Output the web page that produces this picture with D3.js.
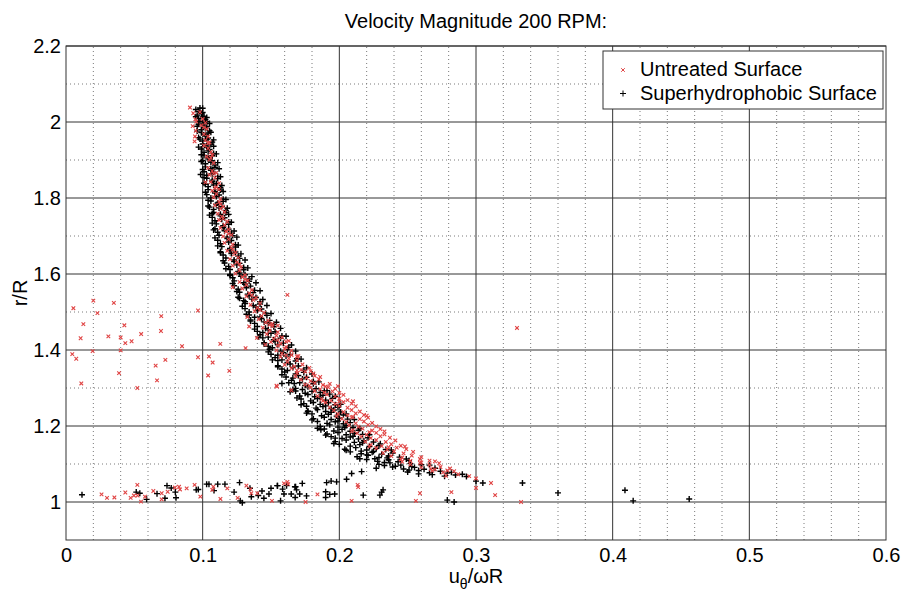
<!DOCTYPE html>
<html>
<head>
<meta charset="utf-8">
<script src="https://d3js.org/d3.v7.min.js"></script>
<style>
    body { margin: 0; background: #fff; }
    text { font-family: "Liberation Sans", Arial, sans-serif; fill: #000; }
</style>
</head>
<body>
<svg id="chart" width="904" height="595"></svg>
<script>

// chart text
var chartTitle = "Velocity Magnitude 200 RPM:";
var seriesNames = ["Untreated Surface", "Superhydrophobic Surface"];
var xTicks = [0, 0.1, 0.2, 0.3, 0.4, 0.5, 0.6];
var yTicks = [1, 1.2, 1.4, 1.6, 1.8, 2, 2.2];
var xMinorTicks = [0.02, 0.04, 0.06, 0.08, 0.12, 0.14, 0.16, 0.18, 0.22, 0.24, 0.26, 0.28,
    0.32, 0.34, 0.36, 0.38, 0.42, 0.44, 0.46, 0.48, 0.52, 0.54, 0.56, 0.58];
var yMinorTicks = [1.1, 1.3, 1.5, 1.7, 1.9, 2.1];

// superhydrophobic surface (black +), main band [u/wR, r/R]
var superBand = [
    [0.098,2.037],[0.097,2.028],[0.100,2.025],[0.096,2.018],[0.099,2.022],[0.101,2.015],
    [0.097,2.009],[0.100,2.013],[0.102,2.006],[0.098,2.002],[0.101,1.997],[0.103,2.001],
    [0.096,1.989],[0.100,1.993],[0.103,1.988],[0.099,1.980],[0.102,1.984],[0.105,1.977],
    [0.099,1.972],[0.102,1.967],[0.104,1.971],[0.097,1.959],[0.102,1.963],[0.104,1.958],
    [0.100,1.950],[0.103,1.954],[0.107,1.947],[0.100,1.942],[0.103,1.937],[0.106,1.941],
    [0.099,1.929],[0.103,1.933],[0.105,1.928],[0.101,1.920],[0.104,1.924],[0.108,1.917],
    [0.101,1.912],[0.104,1.907],[0.107,1.911],[0.100,1.899],[0.104,1.903],[0.107,1.898],
    [0.102,1.890],[0.106,1.894],[0.109,1.887],[0.102,1.882],[0.106,1.877],[0.109,1.881],
    [0.101,1.869],[0.106,1.873],[0.108,1.868],[0.103,1.860],[0.107,1.864],[0.111,1.857],
    [0.103,1.852],[0.107,1.847],[0.111,1.851],[0.101,1.839],[0.107,1.843],[0.110,1.838],
    [0.104,1.830],[0.108,1.834],[0.113,1.827],[0.104,1.822],[0.109,1.817],[0.113,1.821],
    [0.103,1.809],[0.109,1.813],[0.112,1.808],[0.106,1.800],[0.110,1.804],[0.115,1.797],
    [0.106,1.792],[0.111,1.787],[0.115,1.791],[0.104,1.779],[0.110,1.783],[0.114,1.778],
    [0.108,1.770],[0.112,1.774],[0.117,1.767],[0.108,1.762],[0.113,1.757],[0.117,1.761],
    [0.107,1.749],[0.113,1.753],[0.116,1.748],[0.109,1.740],[0.114,1.744],[0.119,1.737],
    [0.110,1.732],[0.115,1.727],[0.119,1.731],[0.109,1.719],[0.115,1.723],[0.119,1.718],
    [0.111,1.710],[0.116,1.714],[0.121,1.707],[0.112,1.702],[0.118,1.697],[0.122,1.701],
    [0.111,1.689],[0.118,1.693],[0.121,1.688],[0.113,1.680],[0.119,1.684],[0.124,1.677],
    [0.114,1.672],[0.120,1.667],[0.124,1.671],[0.113,1.659],[0.120,1.663],[0.124,1.658],
    [0.115,1.650],[0.121,1.654],[0.126,1.647],[0.117,1.642],[0.123,1.637],[0.127,1.641],
    [0.116,1.629],[0.123,1.633],[0.127,1.628],[0.119,1.620],[0.125,1.624],[0.130,1.617],
    [0.120,1.612],[0.126,1.607],[0.130,1.611],[0.120,1.599],[0.127,1.603],[0.131,1.598],
    [0.122,1.590],[0.128,1.594],[0.134,1.587],[0.123,1.582],[0.130,1.577],[0.134,1.581],
    [0.123,1.569],[0.131,1.573],[0.135,1.568],[0.126,1.560],[0.132,1.564],[0.138,1.557],
    [0.127,1.552],[0.133,1.547],[0.137,1.551],[0.126,1.539],[0.134,1.543],[0.139,1.538],
    [0.130,1.530],[0.136,1.534],[0.142,1.527],[0.131,1.522],[0.137,1.517],[0.142,1.521],
    [0.131,1.509],[0.139,1.513],[0.143,1.508],[0.134,1.500],[0.140,1.504],[0.146,1.497],
    [0.134,1.492],[0.142,1.487],[0.147,1.491],[0.138,1.486],[0.135,1.479],[0.143,1.483],
    [0.149,1.478],[0.138,1.470],[0.145,1.474],[0.152,1.467],[0.148,1.471],[0.140,1.462],
    [0.146,1.457],[0.152,1.461],[0.140,1.449],[0.148,1.453],[0.153,1.448],[0.144,1.446],
    [0.142,1.440],[0.150,1.444],[0.158,1.437],[0.144,1.432],[0.152,1.427],[0.157,1.431],
    [0.148,1.434],[0.145,1.419],[0.153,1.423],[0.159,1.418],[0.148,1.410],[0.155,1.414],
    [0.163,1.407],[0.151,1.406],[0.149,1.402],[0.157,1.397],[0.162,1.401],[0.150,1.389],
    [0.159,1.393],[0.164,1.388],[0.155,1.386],[0.153,1.380],[0.161,1.384],[0.169,1.377],
    [0.155,1.372],[0.162,1.367],[0.168,1.371],[0.158,1.374],[0.155,1.359],[0.164,1.363],
    [0.170,1.358],[0.158,1.350],[0.166,1.354],[0.174,1.347],[0.162,1.346],[0.160,1.342],
    [0.168,1.337],[0.174,1.341],[0.161,1.329],[0.170,1.333],[0.176,1.328],[0.166,1.326],
    [0.165,1.320],[0.173,1.324],[0.181,1.317],[0.167,1.312],[0.175,1.307],[0.181,1.311],
    [0.171,1.314],[0.168,1.299],[0.177,1.303],[0.183,1.298],[0.173,1.296],
    [0.168,1.292],[0.175,1.286],[0.180,1.291],[0.186,1.288],[0.191,1.293],
    [0.171,1.279],[0.177,1.283],[0.182,1.277],[0.188,1.281],[0.193,1.284],
    [0.172,1.271],[0.179,1.266],[0.184,1.272],[0.190,1.268],[0.195,1.273],
    [0.174,1.259],[0.181,1.262],[0.186,1.257],[0.192,1.261],[0.197,1.256],
    [0.176,1.252],[0.183,1.247],[0.188,1.251],[0.194,1.246],[0.199,1.249],
    [0.177,1.239],[0.184,1.243],[0.190,1.238],[0.196,1.242],[0.201,1.237],
    [0.180,1.232],[0.187,1.227],[0.192,1.231],[0.198,1.226],[0.203,1.229],
    [0.181,1.219],[0.189,1.223],[0.194,1.217],[0.200,1.221],[0.206,1.218],
    [0.184,1.212],[0.191,1.207],[0.197,1.211],[0.203,1.206],[0.208,1.209],
    [0.186,1.199],[0.193,1.203],[0.199,1.197],[0.205,1.201],[0.210,1.196],
    [0.189,1.192],[0.196,1.187],[0.202,1.191],[0.208,1.186],[0.214,1.189],
    [0.191,1.179],[0.199,1.183],[0.205,1.177],[0.211,1.181],[0.217,1.178],
    [0.194,1.172],[0.202,1.167],[0.208,1.171],[0.214,1.166],[0.221,1.169],
    [0.197,1.159],[0.205,1.163],[0.211,1.157],[0.218,1.161],[0.225,1.158],
    [0.200,1.152],[0.208,1.147],[0.215,1.151],[0.222,1.146],[0.229,1.149],
    [0.204,1.139],[0.212,1.143],[0.220,1.137],[0.227,1.141],[0.234,1.138],[0.216,1.134],
    [0.208,1.132],[0.216,1.127],[0.224,1.131],[0.231,1.126],[0.239,1.129],[0.220,1.124],
    [0.213,1.119],[0.221,1.123],[0.229,1.117],[0.236,1.121],[0.244,1.118],[0.226,1.114],
    [0.220,1.112],[0.228,1.107],[0.236,1.111],[0.243,1.106],[0.251,1.109],[0.233,1.104],
    [0.229,1.099],[0.237,1.103],[0.245,1.097],[0.252,1.101],[0.260,1.098],[0.241,1.094],
    [0.239,1.092],[0.247,1.087],[0.255,1.091],[0.262,1.086],[0.270,1.089],[0.251,1.084],
    [0.250,1.079],[0.258,1.083],[0.266,1.077],[0.274,1.081],[0.282,1.078],
    [0.268,1.072],[0.277,1.068],[0.285,1.071],[0.293,1.067],
    // band edges, between the rows above
    [0.095,2.033],[0.100,2.036],[0.095,2.014],[0.103,2.012],[0.097,1.994],[0.105,1.996],
    [0.096,1.976],[0.106,1.973],[0.098,1.955],[0.108,1.953],[0.097,1.934],[0.108,1.936],
    [0.099,1.914],[0.110,1.916],[0.099,1.896],[0.111,1.893],[0.100,1.875],[0.112,1.877],
    [0.101,1.854],[0.113,1.856],[0.102,1.836],[0.114,1.833],[0.102,1.815],[0.115,1.817],
    [0.104,1.794],[0.117,1.796],[0.105,1.776],[0.118,1.773],[0.105,1.755],[0.119,1.757],
    [0.107,1.734],[0.121,1.736],[0.108,1.716],[0.123,1.713],[0.109,1.695],[0.125,1.697],
    [0.111,1.674],[0.126,1.676],[0.113,1.656],[0.128,1.653],[0.115,1.635],[0.131,1.637],
    [0.117,1.614],[0.133,1.616],[0.120,1.596],[0.136,1.593],[0.122,1.575],[0.139,1.577],
    [0.125,1.554],[0.142,1.556],[0.127,1.536],[0.144,1.533],[0.129,1.515],[0.147,1.517],
    [0.132,1.494],[0.150,1.496],[0.135,1.476],[0.154,1.473],[0.138,1.455],[0.157,1.457],
    [0.141,1.434],[0.161,1.436],[0.145,1.416],[0.165,1.413],[0.148,1.395],[0.168,1.397],
    [0.151,1.374],[0.172,1.376],[0.155,1.356],[0.176,1.353],[0.158,1.335],[0.180,1.337],
    [0.163,1.314],[0.185,1.316],[0.166,1.296],[0.189,1.293],
    [0.169,1.274],[0.186,1.276],[0.197,1.278],[0.172,1.256],[0.190,1.253],[0.201,1.257],
    [0.176,1.234],[0.194,1.236],[0.205,1.232],[0.180,1.216],[0.199,1.213],[0.211,1.217],
    [0.184,1.194],[0.204,1.196],[0.215,1.193],[0.190,1.176],[0.210,1.173],[0.222,1.177],
    [0.196,1.154],[0.217,1.156],[0.230,1.153],[0.205,1.136],[0.225,1.133],[0.238,1.137],
    [0.215,1.114],[0.235,1.116],[0.249,1.113],[0.233,1.096],[0.253,1.093],[0.266,1.097],
    [0.258,1.074],[0.279,1.076],[0.290,1.073]
];

// superhydrophobic surface, points near the wall and stray points
var superScatter = [
    [0.0117,1.019],[0.0514,1.026],[0.054,1.023],[0.059,1.007],[0.0666,1.022],[0.0739,1.043],
    [0.0724,1.010],[0.077,1.037],[0.080,1.026],[0.0805,1.011],[0.0953,1.032],[0.0968,1.033],
    [0.1029,1.047],[0.1046,1.047],[0.111,1.047],[0.1083,1.030],[0.1163,1.047],[0.123,1.026],
    [0.127,1.051],[0.1275,1.003],[0.129,0.998],[0.1356,1.014],[0.1407,1.017],[0.1434,1.029],
    [0.1448,1.010],[0.1485,1.021],[0.1548,1.043],[0.157,1.003],[0.1585,1.034],[0.1595,1.021],
    [0.1614,1.043],[0.1648,1.021],[0.1677,1.012],[0.1675,1.040],[0.1687,1.032],[0.171,1.021],
    [0.1729,1.049],[0.176,1.016],[0.190,1.027],[0.193,1.020],[0.1966,1.021],[0.190,1.012],
    [0.1907,1.051],[0.1346,1.036],[0.150,1.036],[0.1546,1.043],[0.168,1.040],[0.194,1.055],
    [0.198,1.053],[0.2053,1.060],[0.2297,1.018],[0.2175,1.018],[0.232,1.032],[0.231,1.026],
    [0.279,1.005],[0.284,1.000],[0.300,1.055],[0.305,1.050],[0.334,1.050],[0.360,1.024],
    [0.409,1.031],[0.415,1.003],[0.456,1.008],
    [0.209,1.075],[0.2163,1.080],[0.227,1.089],[0.158,1.312],[0.164,1.290],[0.177,1.238],
    [0.1865,1.190],[0.197,1.168],[0.0985,1.862],[0.107,1.759],[0.131,1.527]
];

// untreated surface (red x), main band
var untreatedBand = [
    [0.100,2.008],[0.102,1.998],[0.099,1.991],[0.103,1.982],[0.101,1.968],[0.104,1.962],
    [0.102,1.952],[0.105,1.946],[0.101,1.938],[0.104,1.931],[0.106,1.921],[0.103,1.909],
    [0.107,1.913],[0.105,1.901],[0.108,1.892],[0.104,1.879],[0.107,1.871],[0.110,1.866],
    [0.105,1.861],[0.109,1.853],[0.106,1.842],[0.112,1.839],[0.110,1.829],[0.107,1.819],
    [0.112,1.823],[0.110,1.811],[0.108,1.802],[0.113,1.798],[0.112,1.789],[0.109,1.781],
    [0.115,1.777],[0.113,1.772],[0.111,1.759],[0.116,1.763],[0.114,1.751],[0.112,1.742],
    [0.118,1.738],[0.116,1.729],[0.113,1.721],[0.119,1.717],[0.117,1.712],[0.115,1.699],
    [0.121,1.703],[0.119,1.691],[0.116,1.682],[0.122,1.678],[0.121,1.669],[0.118,1.661],
    [0.124,1.657],[0.123,1.652],[0.120,1.639],[0.126,1.643],[0.125,1.631],[0.122,1.622],
    [0.128,1.618],[0.127,1.609],[0.124,1.601],[0.131,1.597],[0.129,1.592],[0.127,1.579],
    [0.133,1.583],[0.132,1.571],[0.129,1.562],[0.136,1.558],[0.134,1.549],[0.132,1.541],
    [0.139,1.537],[0.137,1.532],[0.135,1.519],[0.142,1.523],[0.140,1.511],[0.138,1.502],
    [0.145,1.498],[0.143,1.489],[0.141,1.481],[0.148,1.477],[0.146,1.472],[0.151,1.469],
    [0.144,1.459],[0.151,1.463],[0.149,1.451],[0.155,1.447],[0.147,1.442],[0.154,1.438],
    [0.152,1.429],[0.158,1.433],[0.150,1.421],[0.157,1.417],[0.161,1.422],[0.155,1.412],
    [0.161,1.408],[0.154,1.399],[0.160,1.403],[0.165,1.398],[0.158,1.391],[0.165,1.387],
    [0.157,1.382],[0.163,1.378],[0.169,1.383],[0.162,1.369],[0.169,1.373],[0.160,1.361],
    [0.167,1.357],[0.173,1.362],[0.165,1.352],[0.172,1.348],[0.178,1.353],[0.169,1.339],
    [0.175,1.343],[0.181,1.338],[0.168,1.331],[0.176,1.327],[0.182,1.332],[0.186,1.329],
    [0.172,1.322],[0.179,1.318],[0.185,1.323],[0.175,1.309],[0.182,1.313],[0.188,1.308],
    [0.193,1.311],[0.179,1.301],[0.186,1.297],[0.192,1.302],[0.197,1.298],
    [0.182,1.292],[0.189,1.288],[0.195,1.291],[0.200,1.287],[0.184,1.279],[0.191,1.283],
    [0.197,1.278],[0.203,1.282],[0.187,1.271],[0.194,1.267],[0.200,1.272],[0.206,1.268],
    [0.190,1.262],[0.197,1.258],[0.203,1.263],[0.209,1.259],[0.193,1.249],[0.200,1.253],
    [0.206,1.248],[0.212,1.252],[0.196,1.241],[0.203,1.237],[0.209,1.242],[0.215,1.238],
    [0.199,1.232],[0.206,1.228],[0.212,1.233],[0.218,1.229],[0.202,1.219],[0.209,1.223],
    [0.215,1.218],[0.221,1.222],[0.205,1.211],[0.212,1.207],[0.218,1.212],[0.224,1.208],
    [0.207,1.202],[0.214,1.198],[0.221,1.203],[0.227,1.199],[0.210,1.189],[0.217,1.193],
    [0.224,1.188],[0.230,1.192],[0.213,1.181],[0.220,1.177],[0.227,1.182],[0.233,1.178],
    [0.216,1.172],[0.223,1.168],[0.230,1.173],[0.237,1.169],[0.219,1.159],[0.227,1.163],
    [0.234,1.158],[0.241,1.162],[0.223,1.151],[0.231,1.147],[0.238,1.152],[0.245,1.148],
    [0.227,1.142],[0.235,1.138],[0.242,1.143],[0.249,1.139],[0.232,1.129],[0.240,1.133],
    [0.247,1.128],[0.254,1.132],[0.238,1.121],[0.246,1.117],[0.253,1.122],[0.260,1.118],
    [0.245,1.112],[0.252,1.108],[0.259,1.113],[0.266,1.109],[0.252,1.099],[0.259,1.103],
    [0.266,1.098],[0.273,1.102],[0.260,1.091],[0.267,1.087],[0.274,1.092],[0.281,1.088],
    [0.268,1.082],[0.276,1.078],[0.284,1.081],[0.278,1.069],[0.287,1.073],[0.295,1.068],
    [0.300,1.062],
    [0.098,2.026],[0.101,1.986],[0.104,1.944],[0.106,1.906],[0.108,1.864],[0.109,1.826],
    [0.113,1.784],[0.115,1.746],[0.119,1.706],[0.122,1.664],[0.127,1.626],[0.131,1.586],
    [0.136,1.544],[0.142,1.506],[0.149,1.466],[0.155,1.464],[0.155,1.426],[0.163,1.424],
    [0.161,1.386],[0.170,1.384],[0.169,1.346],[0.179,1.344],[0.178,1.306],[0.190,1.304],
    [0.199,1.305],[0.188,1.266],[0.200,1.264],[0.210,1.265],[0.198,1.226],[0.210,1.224],
    [0.220,1.227],[0.209,1.186],[0.222,1.184],[0.233,1.186],[0.222,1.146],[0.236,1.144],
    [0.248,1.146],[0.246,1.106],[0.260,1.104],[0.270,1.107],[0.270,1.086],[0.279,1.083]
];

// untreated surface, points near the wall and stray points
var untreatedScatter = [
    [0.026,1.020],[0.030,1.011],[0.0354,1.012],[0.0434,1.025],[0.0522,1.045],[0.0473,1.011],
    [0.0497,1.017],[0.0524,1.017],[0.0549,1.001],[0.0578,1.014],[0.0639,1.029],[0.070,1.023],
    [0.070,1.007],[0.0744,1.027],[0.0797,1.038],[0.0827,1.040],[0.0834,1.033],[0.0883,1.036],
    [0.0941,1.045],[0.0983,1.014],[0.1078,1.040],[0.113,1.008],[0.118,1.036],[0.1256,1.011],
    [0.132,1.043],[0.135,1.034],[0.1356,1.023],[0.140,1.023],[0.1507,1.003],[0.1595,1.049],
    [0.1626,1.047],[0.1753,1.000],[0.184,1.020],[0.209,1.003],[0.2134,1.045],[0.107,1.032],
    [0.162,1.053],[0.2138,1.039],[0.256,1.003],[0.259,1.023],[0.282,1.026],[0.300,1.037],
    [0.311,1.050],[0.314,1.018],[0.333,1.000],
    [0.0054,1.510],[0.020,1.530],[0.035,1.524],[0.023,1.497],[0.0127,1.468],[0.0107,1.431],
    [0.0427,1.465],[0.031,1.436],[0.040,1.433],[0.0434,1.418],[0.048,1.423],[0.055,1.442],
    [0.0697,1.489],[0.0695,1.450],[0.0966,1.504],[0.0849,1.410],[0.0195,1.397],[0.040,1.399],
    [0.0046,1.389],[0.0075,1.377],[0.0112,1.312],[0.0388,1.339],[0.0522,1.300],[0.0656,1.359],
    [0.0727,1.374],[0.0666,1.320],[0.0966,1.381],[0.1046,1.383],[0.1073,1.367],[0.104,1.333],
    [0.1195,1.345],[0.1129,1.416],[0.1314,1.405],[0.122,1.565],[0.1327,1.487],[0.134,1.462],
    [0.1397,1.432],[0.1458,1.414],[0.1544,1.304],[0.165,1.294],[0.162,1.545],[0.154,1.306],
    [0.330,1.458],
    [0.0907,2.038],[0.0931,2.023],[0.0946,2.007],[0.0953,2.001],[0.0927,1.989],[0.095,1.977],
    [0.0944,1.962],[0.0941,1.949],[0.102,1.841]
];


ScatterChart = function(_parentElement) {
    this.parentElement = _parentElement;
    this.width = 904;
    this.height = 595;
    this.margin = { top: 46, right: 18, bottom: 55, left: 66 };
    this.initVis();
}

ScatterChart.prototype.initVis = function() {
    var vis = this;

    vis.svg = d3.select("#" + vis.parentElement);

    vis.xScale = d3.scaleLinear()
        .domain([0, 0.6])
        .range([vis.margin.left, vis.width - vis.margin.right]);

    vis.yScale = d3.scaleLinear()
        .domain([0.9, 2.2])
        .range([vis.height - vis.margin.bottom, vis.margin.top]);

    vis.crossPath = "M-3,0H3M0,-3V3";
    vis.xPath = "M-1.8,-1.8L1.8,1.8M-1.8,1.8L1.8,-1.8";

    vis.updateVis();
}

ScatterChart.prototype.updateVis = function() {
    var vis = this;
    var x0 = vis.xScale.range()[0], x1 = vis.xScale.range()[1];
    var y0 = vis.yScale.range()[0], y1 = vis.yScale.range()[1];

    // dotted minor grid
    var grid = vis.svg.append("g").attr("class", "grid");
    grid.selectAll(".xminor")
        .data(xMinorTicks)
        .enter()
        .append("line")
        .attr("x1", d => vis.xScale(d)).attr("x2", d => vis.xScale(d))
        .attr("y1", y0).attr("y2", y1)
        .attr("stroke", "#7a7a7a")
        .attr("stroke-dasharray", "1,3");
    grid.selectAll(".yminor")
        .data(yMinorTicks)
        .enter()
        .append("line")
        .attr("x1", x0).attr("x2", x1)
        .attr("y1", d => vis.yScale(d)).attr("y2", d => vis.yScale(d))
        .attr("stroke", "#7a7a7a")
        .attr("stroke-dasharray", "1,3");

    // solid major grid
    grid.selectAll(".xmajor")
        .data(xTicks.slice(1, -1))
        .enter()
        .append("line")
        .attr("x1", d => vis.xScale(d)).attr("x2", d => vis.xScale(d))
        .attr("y1", y0).attr("y2", y1)
        .attr("stroke", "#333");
    grid.selectAll(".ymajor")
        .data(yTicks)
        .enter()
        .append("line")
        .attr("x1", x0).attr("x2", x1)
        .attr("y1", d => vis.yScale(d)).attr("y2", d => vis.yScale(d))
        .attr("stroke", "#333");

    // black + markers first, red x on top
    var marks = vis.svg.append("g").attr("class", "marks");
    marks.selectAll(".sup")
        .data(superBand.concat(superScatter))
        .enter()
        .append("path")
        .attr("transform", d => "translate(" + vis.xScale(d[0]) + "," + vis.yScale(d[1]) + ")")
        .attr("d", vis.crossPath)
        .attr("stroke", "#000")
        .attr("stroke-width", 1.4)
        .attr("fill", "none");
    marks.selectAll(".untr")
        .data(untreatedBand.concat(untreatedScatter))
        .enter()
        .append("path")
        .attr("transform", d => "translate(" + vis.xScale(d[0]) + "," + vis.yScale(d[1]) + ")")
        .attr("d", vis.xPath)
        .attr("stroke", "#e04444")
        .attr("stroke-width", 1.1)
        .attr("fill", "none");

    // axes
    var xAxis = d3.axisBottom(vis.xScale)
        .tickValues(xTicks)
        .tickFormat(d => String(d))
        .tickSize(0)
        .tickPadding(8);
    vis.svg.append("g")
        .attr("class", "axis x-axis")
        .attr("transform", "translate(0," + y0 + ")")
        .call(xAxis)
        .call(g => g.select(".domain").remove())
        .selectAll("text")
        .style("font-size", "20px")
        .attr("fill", "#000");

    var yAxis = d3.axisLeft(vis.yScale)
        .tickValues(yTicks)
        .tickFormat(d => String(d))
        .tickSize(0)
        .tickPadding(5);
    vis.svg.append("g")
        .attr("class", "axis y-axis")
        .attr("transform", "translate(" + x0 + ",0)")
        .call(yAxis)
        .call(g => g.select(".domain").remove())
        .selectAll("text")
        .style("font-size", "20px")
        .attr("fill", "#000");

    // box
    vis.svg.append("rect")
        .attr("x", x0).attr("y", y1)
        .attr("width", x1 - x0).attr("height", y0 - y1)
        .attr("fill", "none")
        .attr("stroke", "#333");

    // labels
    vis.svg.append("text")
        .attr("x", (x0 + x1) / 2)
        .attr("y", 28)
        .attr("text-anchor", "middle")
        .style("font-size", "20px")
        .text(chartTitle);

    var xl = vis.svg.append("text")
        .attr("x", (x0 + x1) / 2)
        .attr("y", 583)
        .attr("text-anchor", "middle")
        .style("font-size", "20px");
    xl.append("tspan").text("u");
    xl.append("tspan").attr("dy", 6).style("font-size", "14px").text("\u03b8");
    xl.append("tspan").attr("dy", -6).text("/\u03c9R");

    vis.svg.append("text")
        .attr("transform", "translate(27," + (y0 + y1) / 2 + ") rotate(-90)")
        .attr("text-anchor", "middle")
        .style("font-size", "20px")
        .text("r/R");

    // legend
    var legend = vis.svg.append("g").attr("class", "legend");
    legend.append("rect")
        .attr("x", 603).attr("y", 51)
        .attr("width", 280).attr("height", 58)
        .attr("fill", "#fff")
        .attr("stroke", "#333");
    legend.selectAll("text")
        .data(seriesNames)
        .enter()
        .append("text")
        .attr("x", 640)
        .attr("y", (d, i) => 76 + i * 23.5)
        .style("font-size", "20px")
        .text(d => d);
    legend.append("path")
        .attr("transform", "translate(623,70)")
        .attr("d", vis.xPath)
        .attr("stroke", "#e04444")
        .attr("fill", "none");
    legend.append("path")
        .attr("transform", "translate(623,93.5)")
        .attr("d", vis.crossPath)
        .attr("stroke", "#000")
        .attr("fill", "none");
}

var chart = new ScatterChart("chart");

</script>
</body>
</html>
